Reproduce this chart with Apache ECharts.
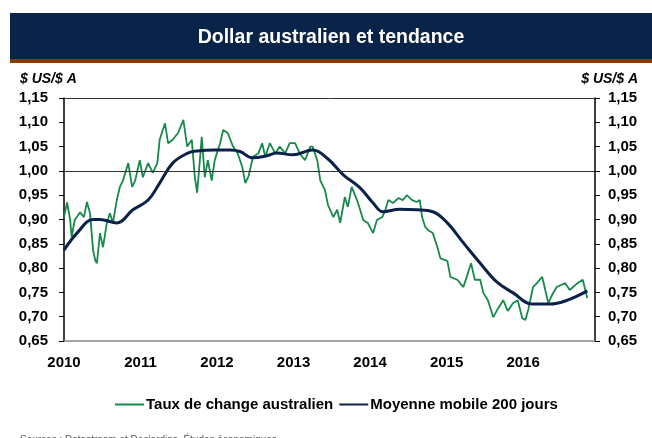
<!DOCTYPE html>
<html>
<head>
<meta charset="utf-8">
<script src="https://cdn.jsdelivr.net/npm/echarts@6/dist/echarts.min.js"></script>
<style>
  html, body { margin: 0; padding: 0; background: #fff; }
  #chart { width: 652px; height: 438px; }
</style>
</head>
<body>
<div id="chart"></div>
<script>
// taux de change AUD/USD (année décimale, valeur)
var tauxChange = [
  [2010.00, 0.905], [2010.04, 0.935], [2010.08, 0.900], [2010.10, 0.864], [2010.14, 0.899],
  [2010.21, 0.915], [2010.26, 0.905], [2010.30, 0.936], [2010.34, 0.913], [2010.38, 0.837],
  [2010.41, 0.815], [2010.43, 0.810], [2010.47, 0.872], [2010.51, 0.843], [2010.56, 0.893],
  [2010.60, 0.913], [2010.64, 0.893], [2010.69, 0.940], [2010.73, 0.967], [2010.77, 0.980],
  [2010.84, 1.016], [2010.89, 0.967], [2010.93, 0.980], [2010.99, 1.022], [2011.03, 0.987],
  [2011.10, 1.016], [2011.16, 0.996], [2011.22, 1.016], [2011.25, 1.064], [2011.32, 1.098],
  [2011.36, 1.057], [2011.42, 1.064], [2011.49, 1.078], [2011.56, 1.105], [2011.61, 1.050],
  [2011.67, 1.064], [2011.71, 0.987], [2011.74, 0.955], [2011.78, 1.030], [2011.80, 1.070],
  [2011.84, 0.987], [2011.88, 1.022], [2011.93, 0.980], [2011.97, 1.022], [2012.04, 1.057],
  [2012.08, 1.084], [2012.14, 1.078], [2012.21, 1.050], [2012.27, 1.036], [2012.33, 1.008],
  [2012.37, 0.975], [2012.41, 0.988], [2012.47, 1.029], [2012.54, 1.036], [2012.59, 1.057],
  [2012.63, 1.029], [2012.69, 1.057], [2012.76, 1.036], [2012.82, 1.050], [2012.89, 1.036],
  [2012.95, 1.057], [2013.02, 1.057], [2013.08, 1.036], [2013.15, 1.022], [2013.22, 1.050],
  [2013.25, 1.050], [2013.31, 1.022], [2013.35, 0.980], [2013.41, 0.961], [2013.45, 0.930],
  [2013.52, 0.905], [2013.57, 0.920], [2013.61, 0.893], [2013.67, 0.946], [2013.71, 0.926],
  [2013.76, 0.967], [2013.83, 0.940], [2013.87, 0.920], [2013.91, 0.899], [2013.97, 0.893],
  [2014.04, 0.872], [2014.09, 0.899], [2014.16, 0.905], [2014.20, 0.920], [2014.24, 0.940],
  [2014.30, 0.934], [2014.37, 0.944], [2014.43, 0.940], [2014.48, 0.950], [2014.55, 0.940],
  [2014.61, 0.936], [2014.65, 0.940], [2014.68, 0.905], [2014.72, 0.885], [2014.76, 0.878],
  [2014.82, 0.872], [2014.88, 0.843], [2014.92, 0.820], [2015.01, 0.815], [2015.05, 0.782],
  [2015.14, 0.776], [2015.22, 0.761], [2015.27, 0.785], [2015.32, 0.810], [2015.37, 0.776],
  [2015.44, 0.776], [2015.48, 0.749], [2015.54, 0.734], [2015.61, 0.699], [2015.67, 0.716],
  [2015.74, 0.734], [2015.80, 0.712], [2015.87, 0.728], [2015.93, 0.734], [2015.99, 0.697],
  [2016.03, 0.693], [2016.07, 0.716], [2016.13, 0.761], [2016.18, 0.769], [2016.25, 0.782],
  [2016.29, 0.755], [2016.33, 0.728], [2016.38, 0.745], [2016.44, 0.761], [2016.55, 0.769],
  [2016.61, 0.755], [2016.71, 0.769], [2016.78, 0.776], [2016.84, 0.738]
];

// moyenne mobile 200 jours
var moyenneMobile = [
  [2010.00, 0.837], [2010.17, 0.872], [2010.38, 0.900], [2010.47, 0.900], [2010.69, 0.893],
  [2010.90, 0.920], [2011.10, 0.940], [2011.25, 0.975], [2011.42, 1.016], [2011.61, 1.036],
  [2011.74, 1.041], [2011.97, 1.043], [2012.17, 1.043], [2012.30, 1.040], [2012.46, 1.027],
  [2012.65, 1.031], [2012.78, 1.037], [2012.99, 1.033], [2013.25, 1.043], [2013.44, 1.026],
  [2013.65, 0.992], [2013.87, 0.965], [2014.04, 0.934], [2014.17, 0.916], [2014.39, 0.921],
  [2014.61, 0.920], [2014.82, 0.916], [2015.01, 0.893], [2015.22, 0.852], [2015.44, 0.810],
  [2015.66, 0.771], [2015.87, 0.749], [2016.12, 0.726], [2016.35, 0.726], [2016.58, 0.734],
  [2016.84, 0.753]
];

var nomsSeries = ['Taux de change australien', 'Moyenne mobile 200 jours'];
var FONT = '"Liberation Sans", Arial, sans-serif';

function fmtY(v) { return v.toFixed(2).replace('.', ','); }

var yAxisBase = function (pos) {
  return {
    type: 'value', position: pos, min: 0.65, max: 1.15, interval: 0.05,
    axisLine: { show: true, lineStyle: { color: '#000', width: 1.5 } },
    axisTick: { show: true, inside: false, length: 5, lineStyle: { color: '#000' } },
    axisLabel: { formatter: fmtY, color: '#000', fontWeight: 'bold', fontSize: 15, fontFamily: FONT,
      margin: pos === 'left' ? 16 : 13 },
    splitLine: { show: false }
  };
};

var myChart = echarts.init(document.getElementById('chart'));
option = {
  backgroundColor: '#fff',
  animation: false,
  graphic: [
    { type: 'rect', shape: { x: 10, y: 13, width: 642, height: 47 }, style: { fill: '#0a2349' } },
    { type: 'rect', shape: { x: 10, y: 59, width: 642, height: 4 }, style: { fill: '#7f3f08' } },
    { type: 'text', x: 331, y: 38, style: { text: 'Dollar australien et tendance', fill: '#fff',
      font: 'bold 19.5px ' + FONT, align: 'center', verticalAlign: 'middle' } },
    { type: 'text', x: 20, y: 79, style: { text: '$ US/$ A', fill: '#000',
      font: 'italic bold 14px ' + FONT, align: 'left', verticalAlign: 'middle' } },
    { type: 'text', x: 638, y: 79, style: { text: '$ US/$ A', fill: '#000',
      font: 'italic bold 14px ' + FONT, align: 'right', verticalAlign: 'middle' } },
    { type: 'text', x: 20, y: 435, style: { text: 'Sources : Datastream et Desjardins, Études économiques', fill: '#555',
      font: '10px ' + FONT, align: 'left', verticalAlign: 'top' } }
  ],
  legend: {
    data: nomsSeries,
    top: 392, left: 110,
    itemWidth: 29, itemHeight: 2, itemGap: 6,
    icon: 'rect',
    textStyle: { color: '#000', fontWeight: 'bold', fontSize: 15, fontFamily: FONT, padding: [0, 0, 0, -3] }
  },
  grid: { left: 64, right: 57, top: 98, bottom: 97 },
  xAxis: {
    type: 'value', min: 2010, max: 2016.94, interval: 1,
    axisLine: { show: true, lineStyle: { color: '#888', width: 1.5 } },
    axisTick: { show: false },
    axisLabel: {
      color: '#000', fontWeight: 'bold', fontSize: 15, fontFamily: FONT, margin: 14,
      showMaxLabel: false,
      formatter: function (v) { return Math.abs(v - Math.round(v)) < 1e-6 ? String(Math.round(v)) : ''; }
    },
    splitLine: { show: false }
  },
  yAxis: [yAxisBase('left'), yAxisBase('right')],
  series: [
    {
      name: nomsSeries[0], type: 'line', data: tauxChange, symbol: 'none',
      itemStyle: { color: '#16894b' },
      lineStyle: { color: '#16894b', width: 1.8 },
      markLine: {
        silent: true, symbol: 'none', label: { show: false },
        lineStyle: { color: '#333', width: 1, type: 'solid' },
        data: [{ yAxis: 1.0 }, { yAxis: 1.15 }]
      },
      z: 2
    },
    {
      name: nomsSeries[1], type: 'line', data: moyenneMobile, symbol: 'none', smooth: 0.4,
      itemStyle: { color: '#0b2148' },
      lineStyle: { color: '#0b2148', width: 3 },
      z: 3
    }
  ]
};
myChart.setOption(option);
</script>
</body>
</html>
